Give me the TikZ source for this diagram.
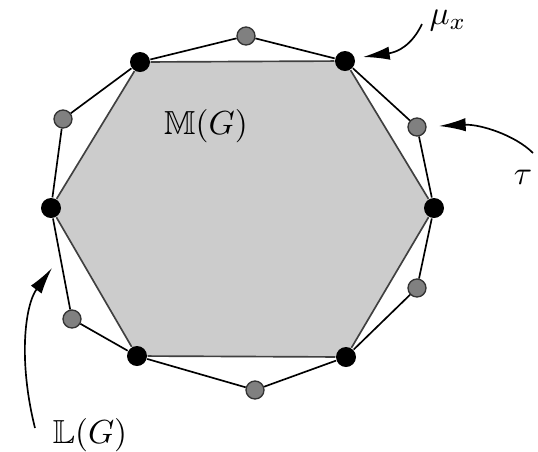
\documentclass[tikz,border=0pt]{standalone}
\usepackage{amsmath}
\usepackage{amssymb}
\usetikzlibrary{arrows.meta}
\usetikzlibrary{backgrounds}

\tikzset{
bdot/.style={circle,fill=black,inner sep=0pt,minimum size=6pt},
gdot/.style={circle,draw=black!80,fill=black!50,line width=0.4pt,inner sep=0pt,minimum size=5.4pt},
pointer/.style={-{Latex[length=8pt,width=4pt]},line width=0.5pt},
}

\begin{document}
\begin{tikzpicture}[x=0.3pt,y=-0.3pt]
\useasboundingbox (0,0) rectangle (538,451);
% corners of M(G)
\node[bdot] (v1) at (140,62) {};
\node[bdot] (v2) at (345,61) {};
\node[bdot] (v3) at (434,208) {};
\node[bdot] (v4) at (346,357) {};
\node[bdot] (v5) at (137,356) {};
\node[bdot] (v6) at (51,208) {};
% extra points of L(G)
\node[gdot] (g12) at (246,36) {};
\node[gdot] (g23) at (417,127) {};
\node[gdot] (g34) at (417,288) {};
\node[gdot] (g45) at (255,390) {};
\node[gdot] (g56) at (72,319) {};
\node[gdot] (g61) at (63,119) {};
\begin{scope}[on background layer]
\fill[black!20] (v1.center) -- (v2.center) -- (v3.center) -- (v4.center) -- (v5.center) -- (v6.center) -- cycle;
\end{scope}
\draw[black!75,line width=0.5pt] (v1) -- (v2) -- (v3) -- (v4) -- (v5) -- (v6) -- (v1);
\draw[line width=0.5pt] (v1) -- (g12) -- (v2) -- (g23) -- (v3) -- (g34) -- (v4) -- (g45) -- (v5) -- (g56) -- (v6) -- (g61) -- (v1);
% labels
\node (mlbl) at (206,126) {$\mathbb{M}(G)$};
\node (mulbl) at (448,21) {$\mu_x$};
\node (taulbl) at (523,177) {$\tau$};
\node (llbl) at (90,435) {$\mathbb{L}(G)$};
% pointers
\coordinate (mutail) at (422,24);
\coordinate (mutip) at (363,57);
\coordinate (tautail) at (533,153);
\coordinate (tautip) at (439,126);
\coordinate (ltail) at (35,428);
\coordinate (ltip) at (52,268);
\draw[pointer] (mutail) .. controls (412,45) and (398,52) .. (mutip);
\draw[pointer] (tautail) .. controls (515,135) and (480,124) .. (tautip);
\draw[pointer] (ltail) .. controls (18,360) and (25,305) .. (ltip);
\end{tikzpicture}
\end{document}
